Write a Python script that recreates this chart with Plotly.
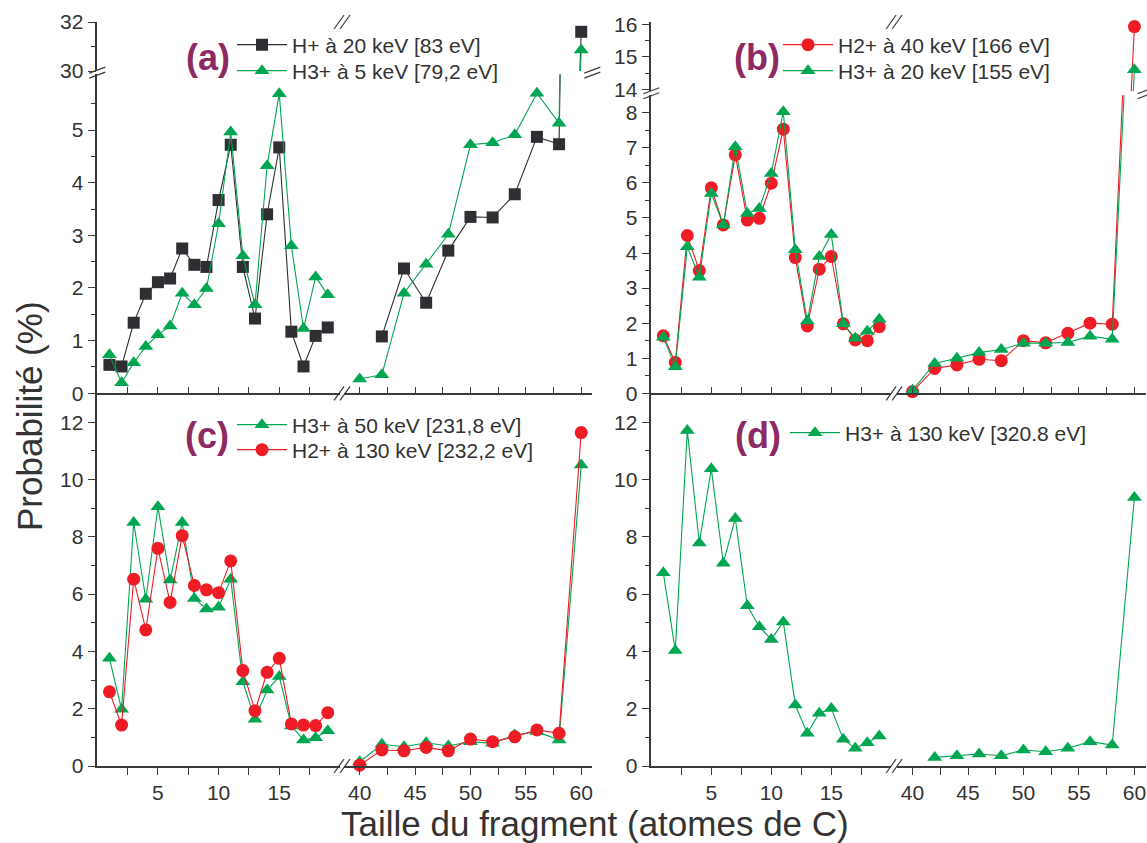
import plotly.graph_objects as go

W, H = 1147, 843

# ---------------- data ----------------
frag_lo = list(range(1, 20))
frag_hi = [40, 42, 44, 46, 48, 50, 52, 54, 56, 58, 60]

a_Hp_lo = [0.54, 0.51, 1.34, 1.89, 2.11, 2.18, 2.75, 2.44, 2.40, 3.67, 4.72, 2.40, 1.42, 3.40, 4.67, 1.17, 0.51, 1.09, 1.25]
a_Hp_hi = [None, 1.08, 2.37, 1.72, 2.71, 3.35, 3.34, 3.78, 4.87, 4.73, 31.6]
a_H3_lo = [0.73, 0.20, 0.58, 0.89, 1.11, 1.28, 1.90, 1.68, 1.99, 3.22, 4.96, 2.61, 1.68, 4.32, 5.69, 2.80, 1.23, 2.21, 1.87]
a_H3_hi = [0.27, 0.35, 1.90, 2.45, 3.02, 4.72, 4.76, 4.91, 5.70, 5.13, 30.86]

b_H2_lo = [1.64, 0.88, 4.50, 3.50, 5.86, 4.80, 6.80, 4.94, 4.99, 5.99, 7.53, 3.87, 1.92, 3.54, 3.90, 1.98, 1.52, 1.50, 1.90]
b_H2_hi = [0.05, 0.71, 0.81, 0.97, 0.93, 1.50, 1.44, 1.71, 2.00, 1.97, 15.93]
b_H3_lo = [1.60, 0.76, 4.18, 3.31, 5.70, 4.80, 7.03, 5.13, 5.27, 6.27, 8.03, 4.09, 2.06, 3.90, 4.53, 1.98, 1.57, 1.77, 2.11]
b_H3_hi = [0.09, 0.85, 1.00, 1.16, 1.25, 1.43, 1.43, 1.45, 1.63, 1.54, 14.6]

c_H3_lo = [3.76, 1.98, 8.50, 5.82, 9.05, 6.49, 8.50, 5.85, 5.48, 5.54, 6.52, 2.94, 1.63, 2.65, 3.12, 1.40, 0.91, 0.99, 1.23]
c_H3_hi = [0.15, 0.76, 0.67, 0.81, 0.70, 0.85, 0.79, 1.08, 1.20, 0.91, 10.51]
c_H2_lo = [2.59, 1.43, 6.52, 4.75, 7.60, 5.71, 8.04, 6.30, 6.15, 6.05, 7.16, 3.33, 1.93, 3.27, 3.76, 1.47, 1.43, 1.41, 1.86]
c_H2_hi = [0.03, 0.56, 0.53, 0.65, 0.53, 0.94, 0.85, 1.02, 1.26, 1.14, 11.64]

d_H3_lo = [6.75, 4.03, 11.71, 7.78, 10.38, 7.08, 8.64, 5.59, 4.86, 4.42, 5.03, 2.13, 1.14, 1.84, 2.01, 0.93, 0.62, 0.81, 1.05]
d_H3_hi = [None, 0.30, 0.36, 0.42, 0.36, 0.56, 0.50, 0.62, 0.85, 0.73, 9.37]

names_a = ["H+ à 20 keV [83 eV]", "H3+ à 5 keV [79,2 eV]"]
names_b = ["H2+ à 40 keV [166 eV]", "H3+ à 20 keV [155 eV]"]
names_c = ["H3+ à 50 keV [231,8 eV]", "H2+ à 130 keV [232,2 eV]"]
names_d = ["H3+ à 130 keV [320.8 eV]"]

# tick values
x_ticks_lo = [5, 10, 15]
x_minor_lo = [2.5, 7.5, 12.5, 17.5]
x_ticks_hi = [40, 45, 50, 55, 60]
x_minor_hi = [42.5, 47.5, 52.5, 57.5]
a_yticks_lo = [0, 1, 2, 3, 4, 5]
a_yminor_lo = [0.5, 1.5, 2.5, 3.5, 4.5, 5.5]
a_yticks_hi = [30, 32]
a_yminor_hi = [31]
b_yticks_lo = [0, 1, 2, 3, 4, 5, 6, 7, 8]
b_yminor_lo = [0.5, 1.5, 2.5, 3.5, 4.5, 5.5, 6.5, 7.5]
b_yticks_hi = [14, 15, 16]
b_yminor_hi = [14.5, 15.5]
cd_yticks = [0, 2, 4, 6, 8, 10, 12]
cd_yminor = [1, 3, 5, 7, 9, 11]

# ---------------- style ----------------
FONT = "Liberation Sans, Arial, Helvetica, sans-serif"
BLACK = "#2f2f33"
GREEN = "#00a651"
RED = "#ee1c25"
AXIS = "#3a3a3a"
TEXT = "#333333"
PURPLE = "#8e2a63"


def fx(px):
    return px / W


def fy(px):
    return 1 - px / H


x_range_lo = [0, 20]
x_range_hi = [38.6, 61.0]
geo_left = [(97.3, 339.9), (344.2, 592.3)]
geo_right = [(651.3, 891.3), (897.0, 1145.5)]

panels = [
    dict(xgeo=geo_left, labels=False,
         ysegs=[([0, 6.06], (393.3, 74.2), a_yticks_lo, a_yminor_lo),
                ([30, 32], (71.0, 22.0), a_yticks_hi, a_yminor_hi)],
         series=[(names_a[0], a_Hp_lo, a_Hp_hi, BLACK, "square", 12, "legend", (292, 45)),
                 (names_a[1], a_H3_lo, a_H3_hi, GREEN, "triangle-up", 13, "legend2", (292, 71))]),
    dict(xgeo=geo_right, labels=False,
         ysegs=[([0, 8.5], (393.3, 95.2), b_yticks_lo, b_yminor_lo),
                ([13.94, 16.07], (91.2, 22.0), b_yticks_hi, b_yminor_hi)],
         series=[(names_b[0], b_H2_lo, b_H2_hi, RED, "circle", 13, "legend3", (838, 45)),
                 (names_b[1], b_H3_lo, b_H3_hi, GREEN, "triangle-up", 13, "legend4", (838, 71))]),
    dict(xgeo=geo_left, labels=True,
         ysegs=[([0, 13.01], (766.0, 393.3), cd_yticks, cd_yminor)],
         series=[(names_c[0], c_H3_lo, c_H3_hi, GREEN, "triangle-up", 13, "legend5", (292, 425)),
                 (names_c[1], c_H2_lo, c_H2_hi, RED, "circle", 13, "legend6", (292, 450))]),
    dict(xgeo=geo_right, labels=True,
         ysegs=[([0, 13.01], (766.0, 393.3), cd_yticks, cd_yminor)],
         series=[(names_d[0], d_H3_lo, d_H3_hi, GREEN, "triangle-up", 13, "legend7", (845, 433))]),
]

layout = {}
traces = []
counter = {"x": 0, "y": 0}


def new_axis(letter):
    counter[letter] += 1
    n = counter[letter]
    short = letter if n == 1 else f"{letter}{n}"
    key = f"{letter}axis" if n == 1 else f"{letter}axis{n}"
    return short, key


tickfont = dict(family=FONT, size=21, color=TEXT)
common = dict(showline=True, linecolor=AXIS, linewidth=1.5, showgrid=False, automargin=False,
              zeroline=False, tickcolor=AXIS, tickwidth=1.3, tickfont=tickfont)

legends = {}
LEG_ITEM_W = 50
LEG_TEXT_OFFSET = 60

for p in panels:
    ysegs = p["ysegs"]
    yl = [new_axis("y") for _ in ysegs]
    xb = [new_axis("x") for _ in range(2)]
    xt = [new_axis("x") for _ in range(2)]
    yr = [new_axis("y") for _ in ysegs]
    xr = [x_range_lo, x_range_hi]
    xtv = [x_ticks_lo, x_ticks_hi]
    xmv = [x_minor_lo, x_minor_hi]
    for j, (rng, (pb, pt), tv, mv) in enumerate(ysegs):
        dom = [fy(pb), fy(pt)]
        layout[yl[j][1]] = dict(common, domain=dom, range=rng, anchor=xb[0][0], side="left",
                                ticks="outside", ticklen=8, tickmode="array", tickvals=tv,
                                minor=dict(tickmode="array", tickvals=mv, ticks="outside",
                                           ticklen=5, tickcolor=AXIS, tickwidth=1.2))
        layout[yr[j][1]] = dict(common, domain=dom, range=rng, anchor=xb[1][0], side="right",
                                ticks="inside", ticklen=8, tickmode="array", tickvals=tv,
                                showticklabels=False,
                                minor=dict(tickmode="array", tickvals=mv, ticks="inside",
                                           ticklen=5, tickcolor=AXIS, tickwidth=1.2))
    for k in range(2):
        dom = [fx(p["xgeo"][k][0]), fx(p["xgeo"][k][1])]
        bt = "outside" if p["labels"] else "inside"
        layout[xb[k][1]] = dict(common, domain=dom, range=xr[k], anchor=yl[0][0], side="bottom",
                                ticks=bt, ticklen=7, tickmode="array", tickvals=xtv[k],
                                showticklabels=p["labels"],
                                minor=dict(tickmode="array", tickvals=xmv[k], ticks=bt,
                                           ticklen=7, tickcolor=AXIS, tickwidth=1.2))
        layout[xt[k][1]] = dict(common, domain=dom, range=xr[k], anchor=yl[-1][0], side="top",
                                ticks="inside", ticklen=7, tickmode="array", tickvals=xtv[k],
                                showticklabels=False,
                                minor=dict(tickmode="array", tickvals=xmv[k], ticks="inside",
                                           ticklen=7, tickcolor=AXIS, tickwidth=1.2))
    for (name, lo, hi, color, symbol, msize, leg, (lx, ly)) in p["series"]:
        legends[leg] = dict(xanchor="left", yanchor="middle", bgcolor="rgba(0,0,0,0)",
                            borderwidth=0, font=dict(family=FONT, size=21, color=TEXT),
                            itemwidth=LEG_ITEM_W, x=fx(lx - LEG_TEXT_OFFSET), y=fy(ly))
        first = True
        for k, (xs, ys) in enumerate([(frag_lo, lo), (frag_hi, hi)]):
            for j, seg in enumerate(ysegs):
                r0, r1 = seg[0]
                if not any(v is not None and r0 <= v <= r1 for v in ys):
                    continue
                traces.append(go.Scatter(
                    x=xs, y=ys, xaxis=xb[k][0], yaxis=yl[j][0], mode="lines+markers",
                    name=name, legend=leg, legendgroup=name, showlegend=first,
                    cliponaxis=False,
                    line=dict(color=color, width=1.1),
                    marker=dict(symbol=symbol, size=msize, color=color, line=dict(width=0))))
                first = False

fig = go.Figure(data=traces)

# break marks (decoration)
shapes = []


def xbreak(cx, yp):
    for o in (-3, 3):
        shapes.append(dict(type="line", xref="paper", yref="paper",
                           x0=fx(cx + o - 5), y0=fy(yp + 7), x1=fx(cx + o + 5), y1=fy(yp - 7),
                           line=dict(color=AXIS, width=1.2)))


def ybreak(xp, yc):
    for o in (-2.5, 2.5):
        shapes.append(dict(type="line", xref="paper", yref="paper",
                           x0=fx(xp - 8), y0=fy(yc + o + 3), x1=fx(xp + 8), y1=fy(yc + o - 3),
                           line=dict(color=AXIS, width=1.2)))


for g in (geo_left, geo_right):
    cx = (g[0][1] + g[1][0]) / 2
    for yp in (22.0, 393.3, 766.0):
        xbreak(cx, yp)
ybreak(97.3, 72.6)
ybreak(592.3, 72.6)
ybreak(651.3, 93.2)
ybreak(1145.5, 93.2)

lab_font = dict(family=FONT, size=36, color=PURPLE)


def ann(text, px, py, font, angle=0):
    return dict(text=text, x=fx(px), y=fy(py), xref="paper", yref="paper", showarrow=False,
                xanchor="center", yanchor="middle", textangle=angle, font=font)


annotations = [
    ann("<b>(a)</b>", 208, 57, lab_font),
    ann("<b>(b)</b>", 757, 57, lab_font),
    ann("<b>(c)</b>", 207, 435, lab_font),
    ann("<b>(d)</b>", 758, 435, lab_font),
    ann("Probabilité (%)", 30, 416, dict(family=FONT, size=35, color=TEXT), -90),
    ann("Taille du fragment (atomes de C)", 595, 823, dict(family=FONT, size=35, color=TEXT)),
]

fig.update_layout(
    width=W, height=H, autosize=False,
    margin=dict(l=0, r=0, t=0, b=0, pad=0),
    paper_bgcolor="white", plot_bgcolor="rgba(0,0,0,0)",
    shapes=shapes, annotations=annotations,
    **layout, **legends,
)

fig.write_html("out.html", config={"displayModeBar": False},
               post_script="document.body.style.margin='0';document.body.style.overflow='hidden';")
